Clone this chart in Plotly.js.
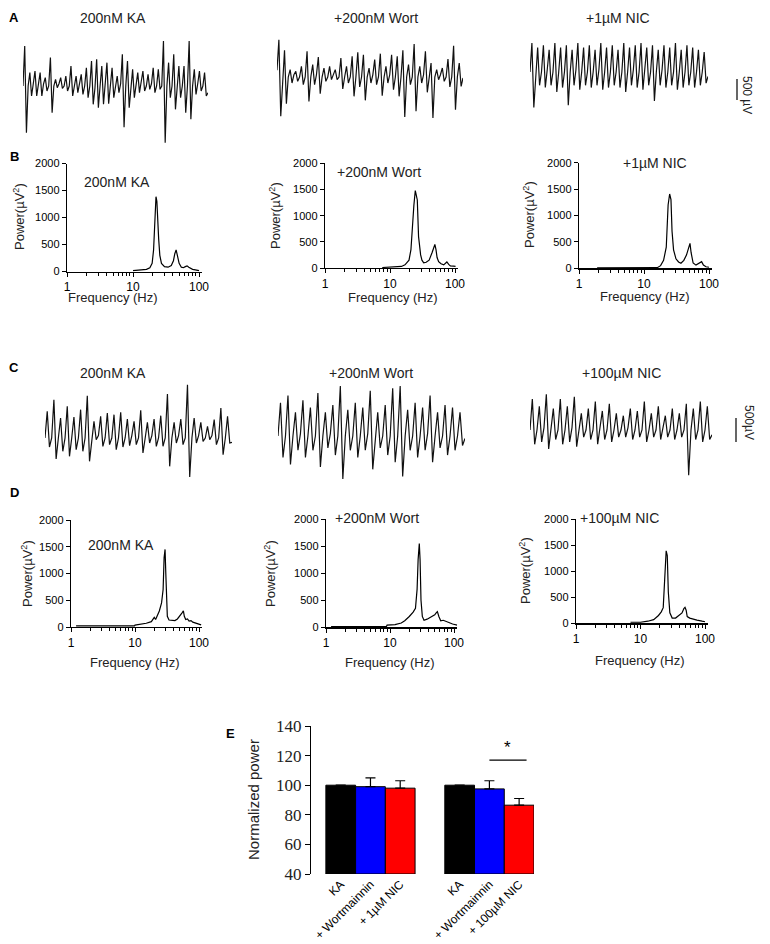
<!DOCTYPE html>
<html><head><meta charset="utf-8">
<script src="https://cdn.plot.ly/plotly-3.0.1.min.js"></script>
<style>html,body{margin:0;padding:0;background:#fff}#chart{width:770px;height:944px}</style>
</head><body><div id="chart"></div>
<script>
// ---------- DATA ----------
// Raw field traces (vertex values in µV, baseline 0): peak, trough, rest per cycle
const traceA1 = [0, 900,-1050,0, 300,-225,50, 338,-225,0, 300,-225,50, 188,-112,0, 638,-600,0, 150,-38,50, 188,-52,0, 225,-112,0, 450,-225,0, 225,-150,50, 262,-188,0, 412,-262,0, 562,-412,-50, 600,-488,0, 450,-412,0, 525,-398,0, 412,-262,0, 225,-150,50, 712,-925,0, 562,-488,0, 375,-262,0, 300,-150,50, 338,-112,0, 262,-75,50, 412,-150,0, 375,-75,0, 1012,-1275,0, 525,-262,0, 712,-525,0, 450,-262,0, 450,-600,0, 1012,-750,0, 375,-188,50, 338,-112,0, 300,-225,-150];
const traceA2 = [150, 840,-885,0, 600,-600,0, 165,-135,50, 128,-98,0, 240,-172,0, 578,-548,0, 278,-172,50, 450,-375,0, 202,-98,0, 240,-60,50, 165,-60,0, 428,-270,0, 240,-135,0, 465,-435,0, 555,-225,0, 502,-525,0, 202,-135,50, 390,-172,0, 525,-420,0, 240,-135,50, 502,-285,0, 465,-435,0, 600,-900,0, 278,-172,0, 742,-772,0, 240,-135,50, 578,-345,0, 315,-922,0, 165,-60,50, 202,-98,0, 405,-225,0, 705,-735,0, 315,-210,-20];
const traceA3 = [0, 650,-800,0, 550,-300,0, 600,-350,50, 500,-300,0, 650,-450,0, 550,-350,0, 600,-750,0, 500,-300,50, 650,-400,0, 550,-300,0, 600,-350,0, 500,-300,50, 650,-400,0, 550,-350,0, 600,-300,0, 500,-350,0, 650,-450,0, 550,-300,50, 600,-350,0, 650,-400,0, 550,-300,0, 600,-650,0, 500,-300,50, 600,-350,0, 550,-300,0, 650,-400,0, 500,-350,0, 600,-300,0, 550,-350,0, 500,-300,0, 450,-250,-100];
const traceC1 = [0, 560,-189,0, 805,-441,0, 420,-280,0, 665,-385,0, 441,-245,0, 595,-280,0, 889,-490,0, 350,-35,50, 455,-175,0, 525,-140,0, 490,-245,0, 539,-189,0, 399,-161,50, 350,-140,0, 581,-315,0, 329,-105,50, 399,-175,0, 469,-175,0, 924,-595,0, 329,-105,50, 399,-140,0, 1120,-819,0, 420,-105,50, 329,-70,0, 245,-35,50, 385,-140,0, 630,-350,0, 455,-105,-90];
const traceC2 = [0, 700,-450,0, 850,-600,0, 500,-300,50, 750,-450,0, 600,-300,0, 900,-650,0, 500,-250,50, 650,-400,0, 1050,-900,0, 550,-300,0, 700,-450,0, 600,-300,50, 950,-700,0, 500,-250,0, 650,-400,0, 1000,-550,0, 1050,-850,0, 550,-300,0, 700,-450,0, 600,-300,50, 850,-550,0, 500,-250,0, 650,-400,0, 600,-300,0, 500,-200,-50];
const traceC3 = [0, 650,-300,0, 500,-250,50, 750,-400,0, 450,-200,0, 650,-300,0, 500,-250,50, 700,-350,0, 350,-150,0, 450,-200,0, 600,-300,50, 400,-200,0, 550,-250,0, 350,-150,0, 300,-150,50, 450,-200,0, 400,-150,0, 600,-250,0, 350,-150,0, 500,-200,50, 300,-150,0, 450,-200,0, 350,-150,0, 550,-950,0, 450,-200,0, 600,-250,0, 500,-200,-100];

// Power spectra (frequency in Hz, power in µV²)
const freqB1 = [10,12,14,16,18,19.5,20.5,21.5,22.3,23,23.7,24.5,25.5,27,30,34,38,41,43,45,47,50,54,58,62,66,70,75,80,88,95,100];
const powB1  = [15,20,25,40,70,150,400,1000,1385,1300,900,600,300,150,90,80,110,200,330,400,300,150,80,70,90,105,80,60,40,30,20,15];
const freqB2 = [7.6,9,11,13,15,17,19.6,21,22,23.3,24.5,25.5,26.3,27.5,28.5,29.6,31,33,36,40,44.6,47,49,51,53,56,61,67,71,75,80,85,95,102];
const powB2  = [10,12,15,20,30,60,150,350,800,1200,1480,1400,1300,600,400,250,150,100,110,150,300,400,450,350,200,120,80,60,80,115,70,40,35,30];
const freqB3 = [1.9,3,5,8,12,16,18,20,22,23.5,24.8,26,27,28.5,31,34,37,41,45,49,51,53,57,63,70,77,82,90,100];
const powB3  = [10,10,10,10,10,12,50,150,400,1200,1407,1300,700,350,180,120,95,150,250,420,473,300,100,60,90,126,60,30,20];
const freqD1 = [1.2,2,4,7,9.8,10,12,15,18,20,21,22,24,26,27.5,28.5,29.5,30.3,31,32,34,38,42,46,50,54,57,59,62,66,70,75,80,88,96,108];
const powD1  = [20,20,20,20,20,35,50,70,100,180,140,200,300,450,700,1300,1450,1000,500,200,130,120,120,150,220,260,300,200,140,150,110,120,90,70,60,40];
const freqD2 = [1.2,2,4,7,8.8,9,12,15,17,20,23,25,26.5,27.5,28.7,29.5,30.5,32,34,38,42,46,50,53,55,58,62,68,75,85,95,112];
const powD2  = [15,15,15,15,15,40,50,80,120,200,280,350,700,1250,1546,1250,500,200,130,150,180,220,230,270,290,200,120,130,110,80,60,40];
const freqD3 = [7,10,13,16,19,21,22.5,23.5,24.5,25,26,27,28.5,31,35,40,44,47,49,51,53,58,65,75,90,100];
const powD3  = [20,20,40,70,150,220,300,700,1300,1390,1300,600,200,100,100,150,200,280,305,250,130,100,80,60,40,30];

// Panel E normalized power
const eLabels = ['KA','+ Wortmainnin','+ 1µM NIC','KA','+ Wortmainnin','+ 100µM NIC'];
const eValues = [100, 99, 98, 100, 97.5, 86.5];
const eErr    = [null, 6, 5, null, 5.5, 4.5];
const eColors = ['#000000','#0000ff','#ff0000','#000000','#0000ff','#ff0000'];
const ePos    = [0, 1, 2, 4, 5, 6];

// ---------- LAYOUT HELPERS ----------
const W = 770, H = 944;
const fx = p => p / W;
const fy = p => 1 - p / H;
const FONT = 'Liberation Sans, Arial, sans-serif';
const SERIF = '"Times New Roman", "Liberation Serif", serif';

const data = [];
const layout = {
  width: W, height: H, margin: {l:0, r:0, t:0, b:0},
  paper_bgcolor: '#fff', plot_bgcolor: 'rgba(0,0,0,0)',
  showlegend: false, font: {family: FONT, color: '#000', size: 11},
  annotations: [], shapes: []
};
let axN = 0;
function ids() {
  axN++;
  return {x: 'x' + (axN === 1 ? '' : axN), y: 'y' + (axN === 1 ? '' : axN),
          xk: 'xaxis' + (axN === 1 ? '' : axN), yk: 'yaxis' + (axN === 1 ? '' : axN)};
}
function ann(text, x, y, opt) {
  layout.annotations.push(Object.assign({text, x: fx(x), y: fy(y), xref: 'paper', yref: 'paper',
    xanchor: 'center', yanchor: 'middle',
    showarrow: false, font: {family: FONT, size: 14, color: '#222'}}, opt || {}));
}

// raw trace panel: left, right px, baseline py, µV per px
function rawPanel(vals, left, right, base, scale) {
  const a = ids();
  const R = 1500;
  const half = R / scale;
  data.push({type: 'scatter', mode: 'lines', x: vals.map((v, i) => i), y: vals,
    xaxis: a.x, yaxis: a.y, line: {color: '#111', width: 1.2}, hoverinfo: 'skip'});
  layout[a.xk] = {domain: [fx(left), fx(right)], range: [0, vals.length - 1], visible: false, anchor: a.y};
  layout[a.yk] = {domain: [fy(base + half), fy(base - half)], range: [-R, R], visible: false, anchor: a.x};
}

// spectrum panel: x px of 1 Hz, px per decade, py of 0, py of 2000
function specPanel(f, p, x1, ppd, y0, y2000, decades) {
  const a = ids();
  const dec = decades || 2.05;
  data.push({type: 'scatter', mode: 'lines', x: f, y: p, xaxis: a.x, yaxis: a.y,
    line: {color: '#000', width: 1.2}, hoverinfo: 'skip'});
  const minor = [2,3,4,5,6,7,8,9,20,30,40,50,60,70,80,90];
  layout[a.xk] = {type: 'log', domain: [fx(x1), fx(x1 + dec * ppd)], range: [0, dec], anchor: a.y,
    showline: true, linecolor: '#000', linewidth: 1.2, ticks: 'outside', ticklen: 4, tickcolor: '#000',
    tickmode: 'array', tickvals: [1, 10, 100], ticktext: ['1', '10', '100'],
    minor: {tickmode: 'array', tickvals: minor, ticks: 'outside', ticklen: 3, tickcolor: '#000', showgrid: false},
    showgrid: false, zeroline: false, tickfont: {family: FONT, size: 12, color: '#000'}};
  layout[a.yk] = {domain: [fy(y0), fy(y2000)], range: [0, 2000], anchor: a.x,
    showline: true, linecolor: '#000', linewidth: 1.2, ticks: 'outside', ticklen: 4, tickcolor: '#000',
    tickmode: 'array', tickvals: [0, 500, 1000, 1500, 2000], showgrid: false, zeroline: false,
    tickfont: {family: FONT, size: 11, color: '#000'}};
}

// ---------- PANELS A & C (raw traces) ----------
rawPanel(traceA1, 23, 208, 86, 22.5);
rawPanel(traceA2, 277, 463, 77, 22.5);
rawPanel(traceA3, 530, 708, 72, 22.5);
rawPanel(traceC1, 45, 232, 438, 21);
rawPanel(traceC2, 278, 465, 436, 21);
rawPanel(traceC3, 530, 712, 430, 21);

// ---------- PANELS B & D (spectra) ----------
specPanel(freqB1, powB1, 67, 66, 271.5, 163.5);
specPanel(freqB2, powB2, 325, 65, 268, 163.3);
specPanel(freqB3, powB3, 579, 65, 268.3, 162.7);
specPanel(freqD1, powD1, 71, 64, 627, 520);
specPanel(freqD2, powD2, 326, 64, 627.3, 519);
specPanel(freqD3, powD3, 576, 64.5, 623.3, 519);

// ---------- PANEL E (bars) ----------
(function () {
  const a = ids();
  data.push({type: 'bar', x: ePos, y: eValues.map(v => v - 40), base: 40, width: 1,
    xaxis: a.x, yaxis: a.y,
    marker: {color: eColors, line: {color: '#000', width: 1}},
    error_y: {type: 'data', array: eErr, arrayminus: eErr.map(() => 0), symmetric: false,
      color: '#000', thickness: 1.2, width: 5, visible: true},
    hoverinfo: 'skip'});
  // significance bar
  data.push({type: 'scatter', mode: 'lines', x: [5, 6.25], y: [117, 117], xaxis: a.x, yaxis: a.y,
    line: {color: '#000', width: 1.2}, hoverinfo: 'skip'});
  layout[a.xk] = {domain: [fx(311), fx(534)], range: [-1.0, 6.5], anchor: a.y,
    showline: false, ticks: '', tickmode: 'array', tickvals: ePos, ticktext: eLabels,
    tickangle: -45, showgrid: false, zeroline: false,
    tickfont: {family: FONT, size: 12, color: '#000'}};
  layout[a.yk] = {domain: [fy(874), fy(726)], range: [40, 140], anchor: a.x,
    showline: true, linecolor: '#000', linewidth: 1.2, ticks: 'outside', ticklen: 5, tickcolor: '#000',
    tickmode: 'array', tickvals: [40, 60, 80, 100, 120, 140], showgrid: false, zeroline: false,
    tickfont: {family: SERIF, size: 17, color: '#222'}};
  layout.annotations.push({text: '*', x: 5.6, y: 117.5, xref: a.x, yref: a.y, yanchor: 'bottom', xanchor: 'center',
    showarrow: false, font: {family: FONT, size: 17, color: '#000'}});
})();

// ---------- TEXT ----------
const bold = {family: FONT, size: 13, color: '#000', weight: 'bold'};
ann('<b>A</b>', 14, 18, {font: bold});
ann('<b>B</b>', 14, 156, {font: bold});
ann('<b>C</b>', 14, 367, {font: bold});
ann('<b>D</b>', 14, 492, {font: bold});
ann('<b>E</b>', 230, 733, {font: bold});

ann('200nM KA', 113, 18);
ann('+200nM Wort', 376, 18);
ann('+1µM NIC', 618, 18);
ann('200nM KA', 113, 373);
ann('+200nM Wort', 371, 373);
ann('+100µM NIC', 621, 373);

ann('200nM KA', 117, 182);
ann('+200nM Wort', 379, 172);
ann('+1µM NIC', 655, 163);
ann('200nM KA', 121, 545);
ann('+200nM Wort', 377, 518);
ann('+100µM NIC', 619, 518);

const tfont = {family: FONT, size: 13, color: '#222'};
const pw = 'Power(µV<sup>2</sup>)';
[[19, 217], [275, 216], [529, 215], [27, 574], [270, 574], [525, 571]].forEach(p =>
  ann(pw, p[0], p[1], {textangle: -90, font: tfont}));
[[113, 297], [393, 297], [645, 296], [135, 662], [390, 662], [640, 660]].forEach(p =>
  ann('Frequency (Hz)', p[0], p[1], {font: tfont}));

ann('Normalized power', 253, 800, {textangle: -90, font: {family: FONT, size: 15, color: '#222'}});

// scale bars
layout.shapes.push({type: 'line', xref: 'paper', yref: 'paper', x0: fx(737), x1: fx(737), y0: fy(79), y1: fy(100), line: {color: '#000', width: 1.2}});
layout.shapes.push({type: 'line', xref: 'paper', yref: 'paper', x0: fx(736), x1: fx(736), y0: fy(418), y1: fy(442), line: {color: '#000', width: 1.2}});
ann('500 µV', 747, 95, {textangle: 90, font: {family: FONT, size: 12, color: '#222'}});
ann('500µV', 749, 422, {textangle: 90, font: {family: FONT, size: 12, color: '#222'}});

Plotly.newPlot('chart', data, layout, {staticPlot: true, displayModeBar: false});
</script></body></html>
